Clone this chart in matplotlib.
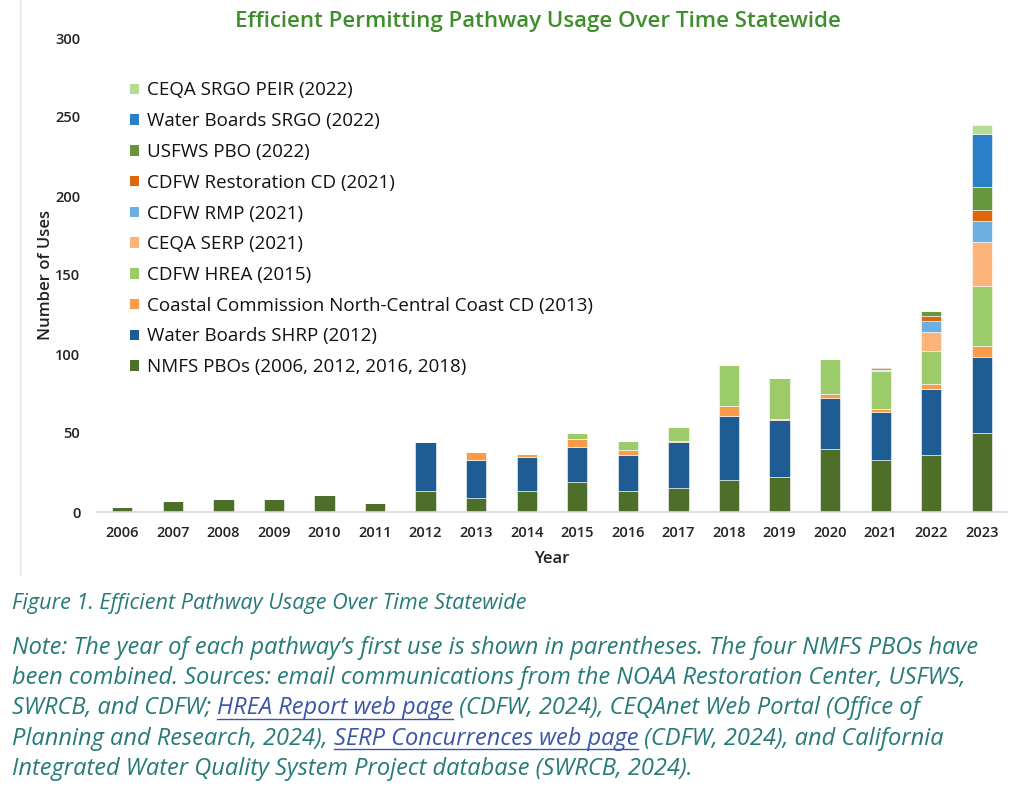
import matplotlib
matplotlib.use("Agg")
import matplotlib.pyplot as plt
from matplotlib.patches import Patch
from matplotlib.lines import Line2D
import numpy as np

years = [str(y) for y in range(2006, 2024)]
nmfs   = [3, 7, 8, 8, 11, 6, 13, 9, 13, 19, 13, 15, 20, 22, 40, 33, 36, 50]
shrp   = [0, 0, 0, 0, 0, 0, 31, 24, 22, 22, 23, 29, 41, 36, 32, 30, 42, 48]
ccc    = [0, 0, 0, 0, 0, 0, 0, 5, 2, 5, 3, 1, 6, 1, 3, 2, 3, 7]
hrea   = [0, 0, 0, 0, 0, 0, 0, 0, 0, 4, 6, 9, 26, 26, 22, 24, 21, 38]
serp   = [0, 0, 0, 0, 0, 0, 0, 0, 0, 0, 0, 0, 0, 0, 0, 1, 12, 28]
rmp    = [0, 0, 0, 0, 0, 0, 0, 0, 0, 0, 0, 0, 0, 0, 0, 1, 7, 13]
restcd = [0, 0, 0, 0, 0, 0, 0, 0, 0, 0, 0, 0, 0, 0, 0, 1, 3, 7]
usfws  = [0, 0, 0, 0, 0, 0, 0, 0, 0, 0, 0, 0, 0, 0, 0, 0, 3, 15]
srgo   = [0, 0, 0, 0, 0, 0, 0, 0, 0, 0, 0, 0, 0, 0, 0, 0, 0, 33]
peir   = [0, 0, 0, 0, 0, 0, 0, 0, 0, 0, 0, 0, 0, 0, 0, 0, 0, 6]

series = [
    ("NMFS PBOs (2006, 2012, 2016, 2018)", nmfs, "#4e6f2a"),
    ("Water Boards SHRP (2012)", shrp, "#1f5c93"),
    ("Coastal Commission North-Central Coast CD (2013)", ccc, "#fb9a48"),
    ("CDFW HREA (2015)", hrea, "#9ccb6a"),
    ("CEQA SERP (2021)", serp, "#fdb47a"),
    ("CDFW RMP (2021)", rmp, "#6eafe2"),
    ("CDFW Restoration CD (2021)", restcd, "#de660b"),
    ("USFWS PBO (2022)", usfws, "#67973a"),
    ("Water Boards SRGO (2022)", srgo, "#2a80c8"),
    ("CEQA SRGO PEIR (2022)", peir, "#b5dc94"),
]

FONT = ["Open Sans", "DejaVu Sans"]
plt.rcParams["font.family"] = FONT

W, H = 1024, 798
fig = plt.figure(figsize=(W / 100, H / 100), dpi=100)
ax = fig.add_axes([97 / W, (H - 512) / H, (1007 - 97) / W, (512 - 38) / H])

x = np.arange(len(years))
bottom = np.zeros(len(years))
for name, vals, col in series:
    v = np.array(vals, dtype=float)
    ax.bar(x, v, 0.4, bottom=bottom, color=col, edgecolor="white", linewidth=0.4)
    bottom += v

ax.set_xlim(-0.5, len(years) - 0.5)
ax.set_ylim(0, 300)
ax.set_yticks([0, 50, 100, 150, 200, 250, 300])
ax.set_xticks(x)
ax.set_xticklabels(years)
for s in ["top", "right", "left"]:
    ax.spines[s].set_visible(False)
ax.spines["bottom"].set_color("#d9d9d9")
ax.spines["bottom"].set_linewidth(1.2)
ax.tick_params(axis="both", length=0, labelsize=10.5, colors="#222222")
ax.tick_params(axis="y", pad=12)
ax.tick_params(axis="x", pad=10)
for lab in ax.get_xticklabels() + ax.get_yticklabels():
    lab.set_fontweight("semibold")
ax.set_xlabel("Year", fontsize=12, fontweight="semibold", color="#222222", labelpad=8)
ax.set_ylabel("Number of Uses", fontsize=12, fontweight="semibold", color="#222222", labelpad=1)

handles = [Patch(facecolor=c, edgecolor="none", label=n) for n, v, c in series][::-1]
leg = ax.legend(handles=handles, loc="upper left", bbox_to_anchor=(122 / W, (H - 74) / H),
                bbox_transform=fig.transFigure, frameon=False, fontsize=13.5,
                handlelength=0.5, handleheight=0.5, handletextpad=0.45,
                labelspacing=0.68, borderaxespad=0)
for t in leg.get_texts():
    t.set_color("#111111")
    t.set_fontweight("medium")

fig.text(538 / W, 1 - 22 / H, "Efficient Permitting Pathway Usage Over Time Statewide",
         ha="center", va="center", fontsize=16, fontweight="semibold", color="#3f8d2d")

# left frame line
fig.add_artist(Line2D([20 / W, 20 / W], [1 - 575 / H, 1.0], transform=fig.transFigure,
                      color="#e6e6e6", linewidth=1))

teal = "#267a78"
link = "#3b55a8"
fig.text(12 / W, 1 - 603 / H, "Figure 1. Efficient Pathway Usage Over Time Statewide",
         ha="left", va="center", fontsize=15.6, style="italic", color=teal)

lines = [
    [("Note: The year of each pathway\u2019s first use is shown in parentheses. The four NMFS PBOs have", teal, False)],
    [("been combined. Sources: email communications from the NOAA Restoration Center, USFWS,", teal, False)],
    [("SWRCB, and CDFW; ", teal, False), ("HREA Report web page", link, True),
     (" (CDFW, 2024), CEQAnet Web Portal (Office of", teal, False)],
    [("Planning and Research, 2024), ", teal, False), ("SERP Concurrences web page", link, True),
     (" (CDFW, 2024), and California", teal, False)],
    [("Integrated Water Quality System Project database (SWRCB, 2024).", teal, False)],
]
fig.canvas.draw()
renderer = fig.canvas.get_renderer()
y0 = 648
for i, segs in enumerate(lines):
    ypix = y0 + i * 30.2
    xpix = 12
    for txt, col, ul in segs:
        t = fig.text(xpix / W, 1 - ypix / H, txt, ha="left", va="center",
                     fontsize=17, style="italic", color=col)
        bb = t.get_window_extent(renderer=renderer)
        if ul:
            yul = 1 - (ypix + 10.5) / H
            fig.add_artist(Line2D([bb.x0 / W, bb.x1 / W], [yul, yul], transform=fig.transFigure,
                                  color=col, linewidth=1))
        xpix = bb.x1

fig.savefig("out.png", dpi=100)
